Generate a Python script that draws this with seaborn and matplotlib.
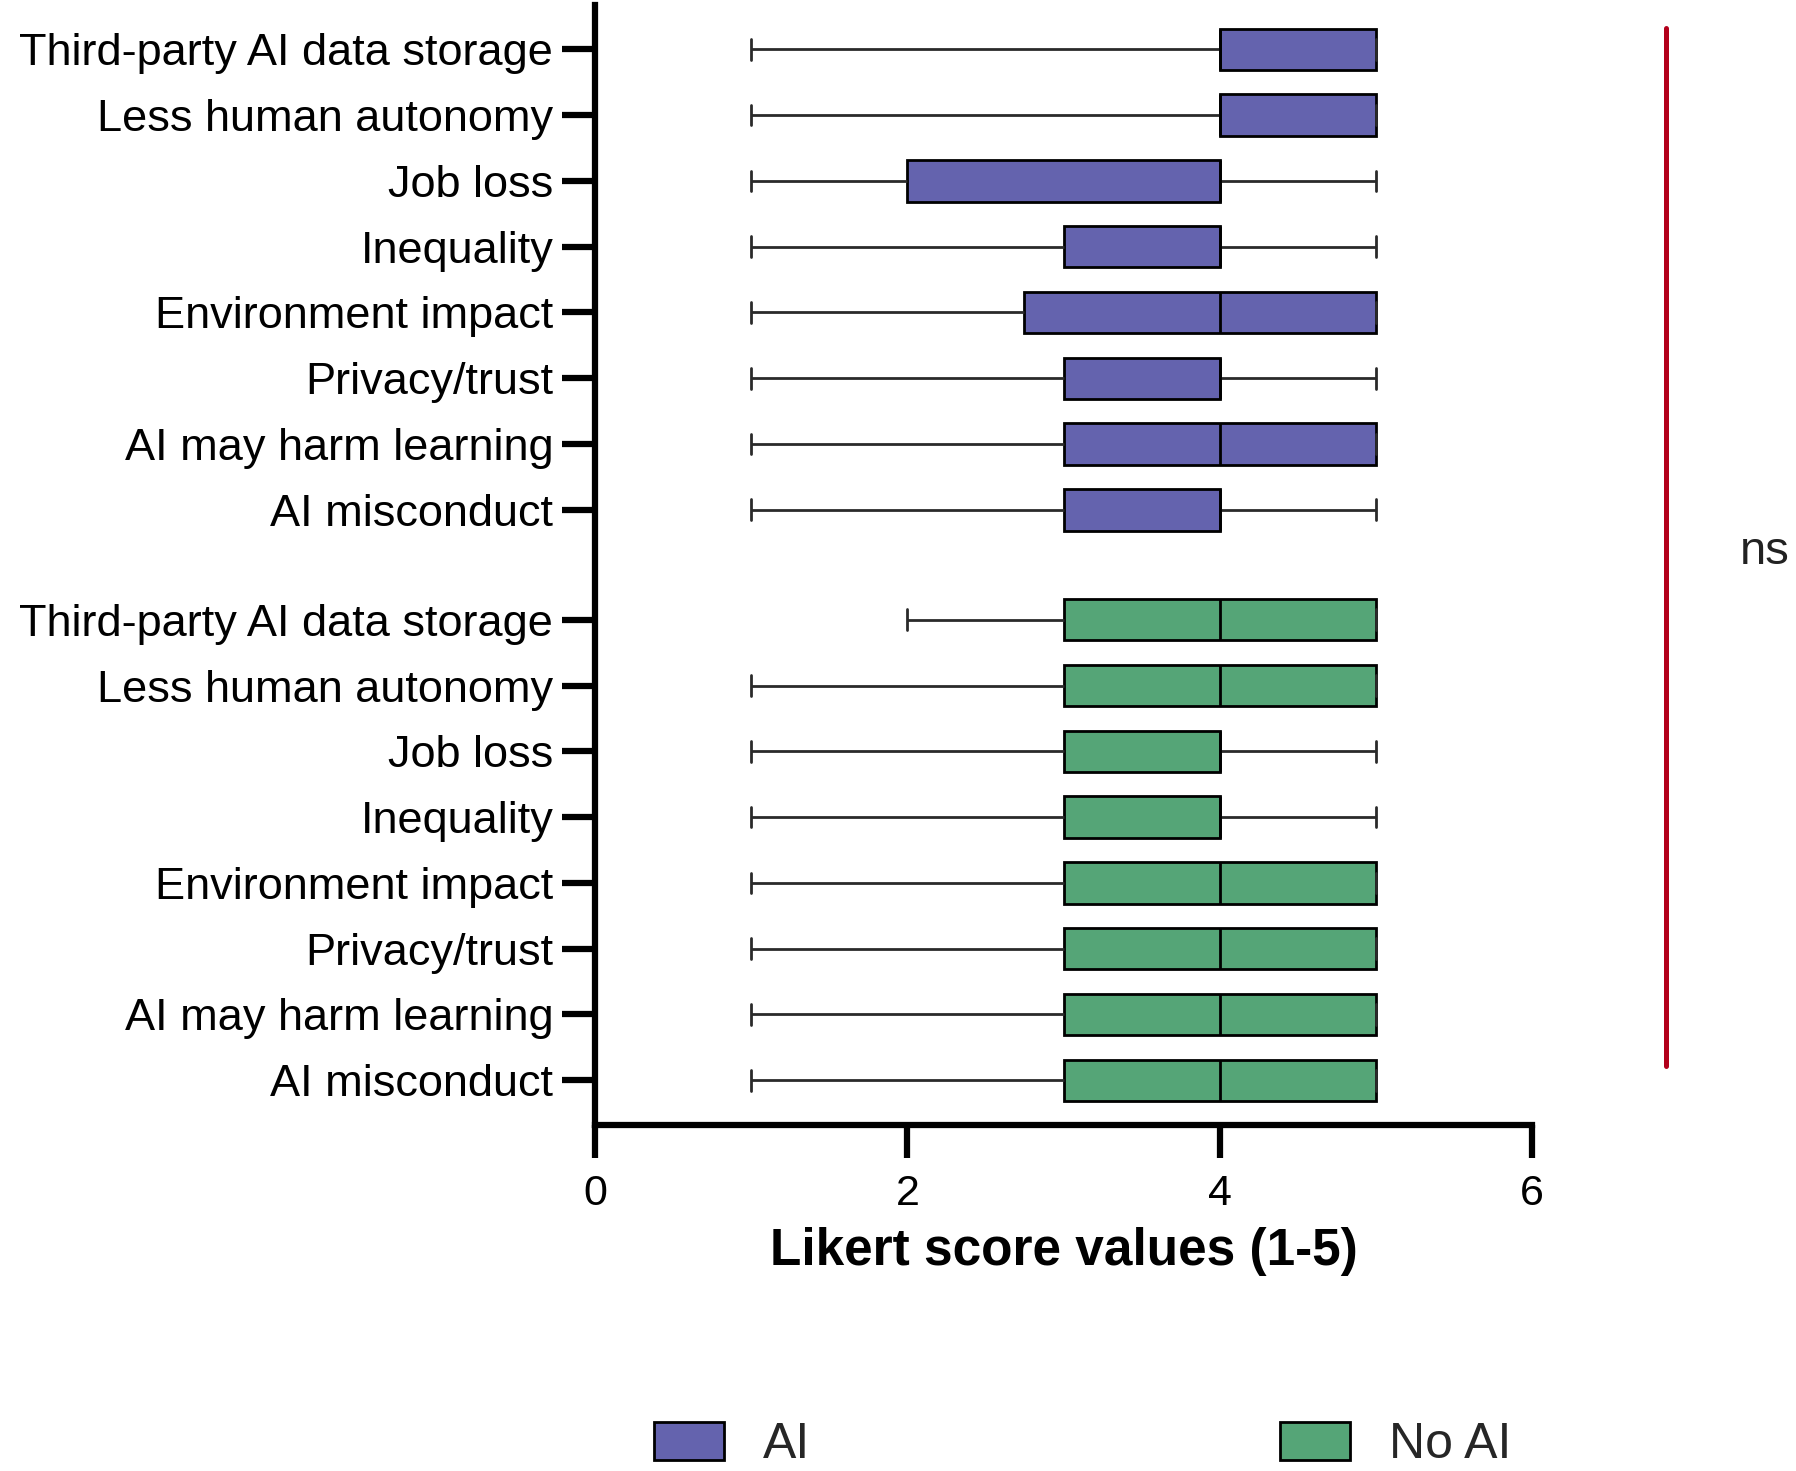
import numpy as np
import pandas as pd
import matplotlib
matplotlib.use("Agg")
import matplotlib.pyplot as plt
import seaborn as sns
from matplotlib.patches import Patch

# ---------------- data (five-number summaries) ----------------
concerns = ["Third-party AI data storage", "Less human autonomy", "Job loss", "Inequality",
            "Environment impact", "Privacy/trust", "AI may harm learning", "AI misconduct"]
groups = ["AI", "No AI"]

ai_min = [1, 1, 1, 1, 1, 1, 1, 1]
ai_q1 = [4, 4, 2, 3, 2.75, 3, 3, 3]
ai_med = [4, 4, 4, 4, 4, 4, 4, 4]
ai_q3 = [5, 5, 4, 4, 5, 4, 5, 4]
ai_max = [5, 5, 5, 5, 5, 5, 5, 5]

noai_min = [2, 1, 1, 1, 1, 1, 1, 1]
noai_q1 = [3, 3, 3, 3, 3, 3, 3, 3]
noai_med = [4, 4, 4, 4, 4, 4, 4, 4]
noai_q3 = [5, 5, 4, 4, 5, 5, 5, 5]
noai_max = [5, 5, 5, 5, 5, 5, 5, 5]

x_ticks = [0, 2, 4, 6]
x_label = "Likert score values (1-5)"
sig_label = "ns"

# ---------------- styling ----------------
purple = "#6463AE"
green = "#55A577"
red = "#B3001B"

sns.set_theme(style="ticks")
plt.rcParams["font.family"] = ["Liberation Sans", "DejaVu Sans"]

# row positions: AI block, gap, No AI block
gap = 1.67
ai_pos = [float(i) for i in range(len(concerns))]
noai_pos = [len(concerns) - 1 + gap + i for i in range(len(concerns))]

rows = []
for g, pos, stats in [
    ("AI", ai_pos, (ai_min, ai_q1, ai_med, ai_q3, ai_max)),
    ("No AI", noai_pos, (noai_min, noai_q1, noai_med, noai_q3, noai_max)),
]:
    for i, p in enumerate(pos):
        for arr in stats:
            rows.append({"group": g, "pos": p, "concern": concerns[i], "score": arr[i]})
df = pd.DataFrame(rows)

fig = plt.figure(figsize=(17.96, 14.71), dpi=100)
ax = fig.add_axes([595 / 1796, 1 - 1125 / 1471, (1532 - 595) / 1796, (1125 - 5) / 1471])

sns.boxplot(data=df, x="score", y="pos", hue="group", orient="y", native_scale=True,
            dodge=False, whis=(0, 100), width=0.63, saturation=1,
            palette={"AI": purple, "No AI": green}, linecolor="black", linewidth=2.0,
            showfliers=False, legend=False, ax=ax,
            whiskerprops={"color": "#2a2a2a"}, capprops={"color": "#2a2a2a"})

ax.set_xlim(0, 6)
ax.set_ylim(16.35, -0.673)
ax.set_xticks(x_ticks)
ax.set_xticklabels([str(t) for t in x_ticks])
ax.set_yticks(ai_pos + noai_pos)
ax.set_yticklabels(concerns + concerns)

for s in ["top", "right"]:
    ax.spines[s].set_visible(False)
for s in ["left", "bottom"]:
    ax.spines[s].set_linewidth(4.5)
    ax.spines[s].set_color("black")

ax.tick_params(axis="y", length=24, width=4.5, pad=6, labelsize=32.5, colors="black")
ax.tick_params(axis="x", length=24, width=4.5, pad=11, labelsize=31, colors="black")
ax.set_ylabel("")
ax.set_xlabel(x_label, fontsize=37, fontweight="bold", labelpad=10, color="black")

# significance bar
ax.plot([6.86, 6.86], [-0.32, 15.45], color=red, lw=3.6, clip_on=False,
        solid_capstyle="round")
ax.text(7.65, 7.64, sig_label, fontsize=34, va="center", ha="right", color="#222222")

handles = [Patch(facecolor=purple, edgecolor="black", linewidth=2.0),
           Patch(facecolor=green, edgecolor="black", linewidth=2.0)]
fig.legend(handles, groups, loc="center left", bbox_to_anchor=(654 / 1796, 1 - 1445 / 1471),
           ncol=2, frameon=False, fontsize=36, handlelength=1.4, handleheight=0.8,
           handletextpad=0.78, columnspacing=9.4, borderpad=0, borderaxespad=0)

fig.savefig("out.png", dpi=100)
